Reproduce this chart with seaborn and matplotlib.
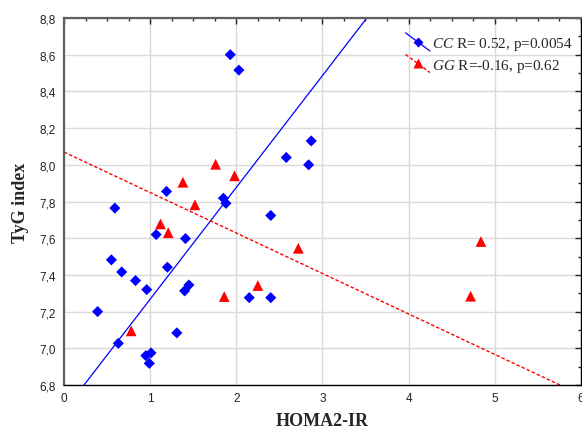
import matplotlib

matplotlib.use("Agg")
import matplotlib.pyplot as plt  # type: ignore
import numpy as np
import seaborn as sns  # type: ignore
from matplotlib.legend_handler import HandlerLine2D
from matplotlib.lines import Line2D
from matplotlib.ticker import MultipleLocator

# CC genotype: HOMA2-IR vs TyG index
cc_homa = [1.19, 0.59, 1.85, 1.88, 2.40, 1.07, 1.41, 0.55, 0.67, 1.20, 0.83, 0.96, 1.45, 1.40,
           2.15, 2.40, 0.39, 1.31, 0.63, 0.95, 1.01, 0.99, 1.93, 2.03, 2.58, 2.87, 2.84]
cc_tyg = [7.855, 7.764, 7.818, 7.79, 7.724, 7.62, 7.598, 7.482, 7.416, 7.442, 7.369, 7.32, 7.345, 7.313,
          7.276, 7.276, 7.20, 7.084, 7.027, 6.96, 6.975, 6.918, 8.60, 8.516, 8.04, 8.13, 8.00]

# GG genotype
gg_homa = [1.38, 1.52, 1.12, 1.21, 2.72, 2.25, 1.86, 0.78, 1.76, 1.98, 4.72, 4.84]
gg_tyg = [7.905, 7.782, 7.678, 7.63, 7.545, 7.342, 7.282, 7.095, 8.003, 7.94, 7.284, 7.582]

legend_labels = [r"$\mathit{CC}$ R= 0.52, p=0.0054", r"$\mathit{GG}$ R=-0.16, p=0.62"]
x_ticks = [0, 1, 2, 3, 4, 5, 6]
y_ticks = [6.8, 7.0, 7.2, 7.4, 7.6, 7.8, 8.0, 8.2, 8.4, 8.6, 8.8]
y_tick_labels = ["6,8", "7,0", "7,2", "7,4", "7,6", "7,8", "8,0", "8,2", "8,4", "8,6", "8,8"]


def fit_line(x, y):
    # line through the means, slope = sign(r) * sy / sx
    x = np.asarray(x)
    y = np.asarray(y)
    r = np.corrcoef(x, y)[0, 1]
    slope = np.sign(r) * y.std() / x.std()
    xs = np.array([0.0, 6.0])
    return xs, y.mean() + slope * (xs - x.mean())


class DiagonalHandler(HandlerLine2D):
    def create_artists(self, legend, orig_handle, xdescent, ydescent, width, height, fontsize, trans):
        line = Line2D([-xdescent, -xdescent + width], [height * 1.35 - ydescent, -height * 0.35 - ydescent])
        self.update_prop(line, orig_handle, legend)
        line.set_marker("None")
        mark = Line2D([-xdescent + width / 2], [height / 2 - ydescent])
        self.update_prop(mark, orig_handle, legend)
        mark.set_linestyle("None")
        line.set_transform(trans)
        mark.set_transform(trans)
        return [line, mark]


sns.set_style("white")
plt.rcParams["font.family"] = ["Liberation Sans", "DejaVu Sans"]
plt.rcParams["mathtext.fontset"] = "custom"
plt.rcParams["mathtext.it"] = "Liberation Serif:italic"
plt.rcParams["mathtext.rm"] = "Liberation Serif"

fig = plt.figure(figsize=(5.82, 4.31), dpi=100)
ax = fig.add_axes([0.110, 0.1044, 0.888, 0.8515])
ax.set_xlim(0, 6)
ax.set_ylim(6.8, 8.8)

ax.grid(True, color="#dadada", linewidth=1)
ax.set_axisbelow(True)

cc_x, cc_y = fit_line(cc_homa, cc_tyg)
gg_x, gg_y = fit_line(gg_homa, gg_tyg)
sns.lineplot(x=cc_x, y=cc_y, color="#0000ff", linewidth=0.9, ax=ax)
sns.lineplot(x=gg_x, y=gg_y, color="#ff0000", linewidth=1.0, linestyle=(0, (2.5, 1.5)), ax=ax)

sns.scatterplot(x=cc_homa, y=cc_tyg, marker="D", s=32, color="#0000ff", edgecolor="none", ax=ax)
sns.scatterplot(x=gg_homa, y=gg_tyg, marker="^", s=60, color="#ff0000", edgecolor="none", ax=ax)

ax.set_xticks(x_ticks)
ax.set_xticklabels([str(t) for t in x_ticks])
ax.set_yticks(y_ticks)
ax.set_yticklabels(y_tick_labels)
ax.xaxis.set_minor_locator(MultipleLocator(0.25))
ax.yaxis.set_minor_locator(MultipleLocator(0.1))
ax.tick_params(which="both", direction="in", top=True, right=True, labelsize=8.5, colors="#222222")
ax.tick_params(which="major", length=4, width=1)
ax.tick_params(which="minor", length=2.5, width=1)
ax.tick_params(axis="y", pad=6)
ax.tick_params(axis="x", pad=5)

for side in ["left", "top"]:
    ax.spines[side].set_color("#606060")
    ax.spines[side].set_linewidth(1.6)
for side in ["bottom", "right"]:
    ax.spines[side].set_color("black")
    ax.spines[side].set_linewidth(1.0)

ax.set_xlabel("HOMA2-IR", family="Liberation Serif", fontweight="bold", fontsize=13, labelpad=6)
ax.set_ylabel("TyG index", family="Liberation Serif", fontweight="bold", fontsize=13, labelpad=7)

handles = [
    Line2D([], [], color="#0000ff", linewidth=0.9, marker="D", markersize=5.5, markeredgecolor="none"),
    Line2D([], [], color="#ff0000", linewidth=1.0, linestyle=(0, (2.5, 1.5)), marker="^", markersize=7.5,
           markeredgecolor="none"),
]
leg = ax.legend(handles, legend_labels, loc="upper right", bbox_to_anchor=(1.003, 0.978), frameon=False,
                handlelength=1.6, handletextpad=0.15, labelspacing=0.3, borderaxespad=0.2,
                prop={"family": "Liberation Serif", "size": 11},
                handler_map={Line2D: DiagonalHandler()})

plt.savefig("out.png", dpi=100)
plt.close()
